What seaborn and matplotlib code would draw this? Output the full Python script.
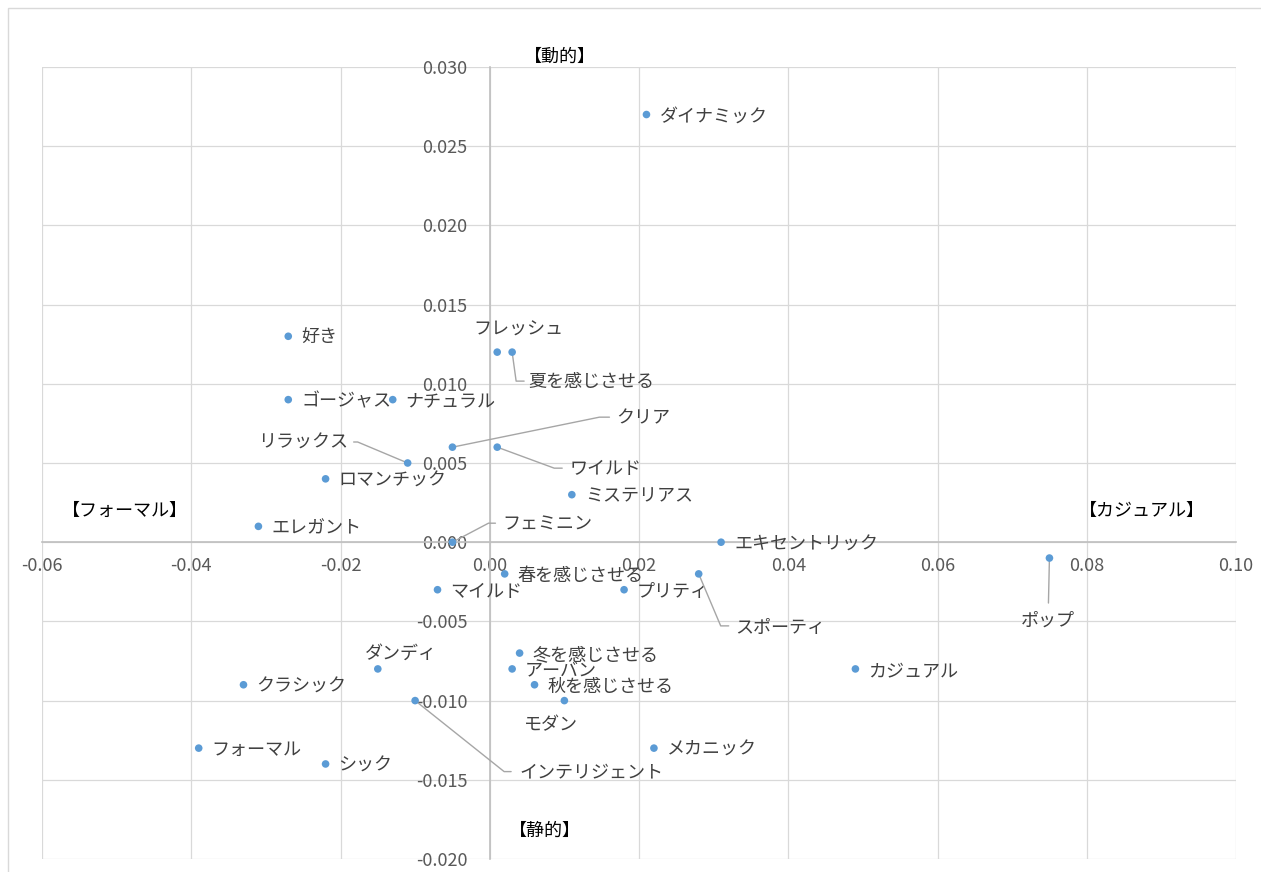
import matplotlib
matplotlib.use("Agg")
import matplotlib.pyplot as plt
import matplotlib.transforms as mtransforms
from matplotlib.patches import Rectangle
import pandas as pd
import seaborn as sns

# data
words = ["ダイナミック", "好き", "フレッシュ", "夏を感じさせる", "ゴージャス", "ナチュラル",
         "クリア", "ワイルド", "リラックス", "ロマンチック", "ミステリアス", "エレガント",
         "フェミニン", "エキセントリック", "ポップ", "春を感じさせる", "スポーティ", "マイルド",
         "プリティ", "ダンディ", "冬を感じさせる", "アーバン", "カジュアル", "クラシック",
         "秋を感じさせる", "インテリジェント", "モダン", "フォーマル", "メカニック", "シック"]
x_vals = [0.021, -0.027, 0.001, 0.003, -0.027, -0.013,
          -0.005, 0.001, -0.011, -0.022, 0.011, -0.031,
          -0.005, 0.031, 0.075, 0.002, 0.028, -0.007,
          0.018, -0.015, 0.004, 0.003, 0.049, -0.033,
          0.006, -0.010, 0.010, -0.039, 0.022, -0.022]
y_vals = [0.027, 0.013, 0.012, 0.012, 0.009, 0.009,
          0.006, 0.006, 0.005, 0.004, 0.003, 0.001,
          0.000, 0.000, -0.001, -0.002, -0.002, -0.003,
          -0.003, -0.008, -0.007, -0.008, -0.008, -0.009,
          -0.009, -0.010, -0.010, -0.013, -0.013, -0.014]
x_ticks = [-0.06, -0.04, -0.02, 0.00, 0.02, 0.04, 0.06, 0.08, 0.10]
y_ticks = [-0.020, -0.015, -0.010, -0.005, 0.000, 0.005, 0.010, 0.015, 0.020, 0.025, 0.030]

df = pd.DataFrame({"word": words, "x": x_vals, "y": y_vals})

# label placement (pixel offsets from point; y down)
# plain labels: (dx, dy, ha)
plain_pos = {
    "フレッシュ": (21, -22, "center"),
    "ダンディ": (23, -15, "center"),
    "モダン": (-13, 25, "center"),
}
# leader-line labels: elbow, line end, label anchor, ha
leader_pos = {
    "夏を感じさせる": ((4, 29), (12, 29), (16, 30), "left"),
    "クリア": ((147, -30), (157, -30), (164, -29), "left"),
    "ワイルド": ((57, 21), (65, 21), (72, 22), "left"),
    "リラックス": ((-50, -21), (-54, -21), (-60, -20), "right"),
    "フェミニン": ((36, -19), (43, -19), (50, -18), "left"),
    "ポップ": ((-1, 45), (-1, 45), (-2, 63), "center"),
    "スポーティ": ((22, 52), (30, 52), (36, 54), "left"),
    "インテリジェント": ((89, 71), (96, 71), (104, 72), "left"),
}

sns.set_style("white")
plt.rcParams["font.family"] = ["Noto Sans CJK JP", "DejaVu Sans"]

W, H = 1261, 872
fig = plt.figure(figsize=(W / 100, H / 100), dpi=100)
ax = fig.add_axes([42 / W, (H - 859) / H, (1236 - 42) / W, (859 - 67) / H])

sns.scatterplot(data=df, x="x", y="y", ax=ax, color="#5B9BD5", s=30,
                edgecolor="none", zorder=5)

ax.set_xlim(-0.06, 0.10)
ax.set_ylim(-0.02, 0.03)
ax.set_xticks(x_ticks)
ax.set_yticks(y_ticks)
ax.set_xticklabels([f"{v:.2f}" for v in x_ticks])
ax.set_yticklabels([f"{v:.3f}" for v in y_ticks])
ax.set_xlabel("")
ax.set_ylabel("")
ax.grid(True, color="#D9D9D9", linewidth=0.9)
ax.set_axisbelow(True)

for s in ["top", "right"]:
    ax.spines[s].set_visible(False)
ax.spines["left"].set_position(("data", 0))
ax.spines["bottom"].set_position(("data", 0))
for s in ["left", "bottom"]:
    ax.spines[s].set_color("#BFBFBF")
    ax.spines[s].set_linewidth(1.2)
ax.tick_params(axis="both", length=0, labelsize=13, labelcolor="#595959")
ax.tick_params(axis="y", pad=16)
ax.tick_params(axis="x", pad=11)

lab_kw = dict(fontsize=13, color="#404040", va="center")
for w, x, y in zip(words, x_vals, y_vals):
    px, py = ax.transData.transform((x, y))
    if w in leader_pos:
        (ex, ey), (lx, ly), (tx, ty), ha = leader_pos[w]
        trans = mtransforms.Affine2D().translate(px, py)
        ax.plot([0, ex, lx], [0, -ey, -ly], transform=trans, color="#A6A6A6",
                linewidth=1, zorder=4, clip_on=False)
        ax.annotate(w, (x, y), xytext=(tx, -ty), textcoords="offset pixels",
                    ha=ha, **lab_kw)
    elif w in plain_pos:
        dx, dy, ha = plain_pos[w]
        ax.annotate(w, (x, y), xytext=(dx, -dy), textcoords="offset pixels",
                    ha=ha, **lab_kw)
    else:
        ax.annotate(w, (x, y), xytext=(13, -2), textcoords="offset pixels",
                    ha="left", **lab_kw)

# quadrant captions
cap_kw = dict(fontsize=13, color="#000000", ha="center", va="center")
fig.text(560 / W, 1 - 57 / H, "【動的】", **cap_kw)
fig.text(545 / W, 1 - 831 / H, "【静的】", **cap_kw)
fig.text(125 / W, 1 - 511 / H, "【フォーマル】", **cap_kw)
fig.text(1142 / W, 1 - 511 / H, "【カジュアル】", **cap_kw)

# chart area border
fig.patches.append(Rectangle((8 / W, -0.1), 1.2, 1 - 8 / H + 0.1,
                             transform=fig.transFigure, fill=False,
                             edgecolor="#D9D9D9", linewidth=1))

fig.savefig("out.png", dpi=100)
